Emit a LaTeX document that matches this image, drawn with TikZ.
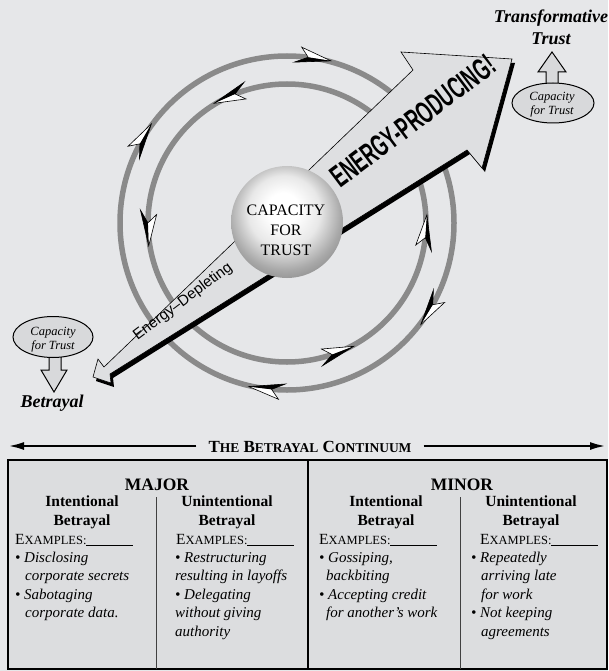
\documentclass[tikz,border=0pt]{standalone}
\usepackage{fontspec}
\setmainfont{Liberation Serif}
\setsansfont{Liberation Sans}
\usepackage{graphicx}
\usetikzlibrary{arrows.meta,shapes.geometric}
\definecolor{bgc}{RGB}{230,231,233}
\definecolor{panelc}{RGB}{220,221,223}
\definecolor{arrowc}{RGB}{222,223,225}
\definecolor{ellc}{RGB}{216,217,219}
\definecolor{ringc}{RGB}{138,138,138}
\pgfdeclareradialshading{sphereshade}{\pgfpoint{-2bp}{7bp}}{%
 color(0bp)=(white); color(7bp)=(white); color(16bp)=(black!9); color(25bp)=(black!34); color(33bp)=(black!50); color(50bp)=(black!50)}
\newcommand{\examplesline}{E{\fontsize{12.5}{12.5}\selectfont XAMPLES:}\rule[-1.5pt]{47pt}{0.8pt}}
\tikzset{
  ring/.style={draw=ringc, line width=5.5pt},
  dart/.pic={
    \fill[white] (18,0) -- (-13,-9) -- (-5,0) -- cycle;
    \fill[black] (18,0) -- (-18,7) -- (-5,0) -- cycle;
    \draw[line width=0.6pt, line join=miter] (18,0) -- (-18,7) -- (-5,0) -- (-13,-9) -- cycle;
  },
  capell/.style={ellipse, draw, line width=1pt, fill=ellc, minimum width=82pt, minimum height=40pt, inner sep=0},
  captext/.style={anchor=north, align=center, inner sep=0, font=\itshape\fontsize{12.5}{14}\selectfont},
  outarrow/.style={fill=ellc, draw=black, line width=1pt, line join=miter},
  bigtitle/.style={anchor=base, inner sep=0, font=\bfseries\itshape\fontsize{18}{18}\selectfont},
  colhead/.style={anchor=north, align=center, inner sep=0, font=\bfseries\fontsize{15.5}{19}\selectfont},
  items/.style={anchor=north west, align=left, inner sep=0, font=\itshape\fontsize{15}{18.5}\selectfont},
  exmp/.style={anchor=base west, inner sep=0, font=\fontsize{15.5}{15.5}\selectfont},
  sidehead/.style={anchor=base, inner sep=0, font=\bfseries\fontsize{17.5}{17.5}\selectfont},
  contarrow/.style={line width=2.5pt, -{Latex[length=16pt,width=8pt]}}
}
\begin{document}
\begin{tikzpicture}[x=1pt,y=-1pt]
\fill[bgc] (0,0) rectangle (608,671);
\useasboundingbox (0,0) rectangle (608,671);

% rings
\draw[ring] (287,223) circle[radius=167];
\draw[ring] (287,223) circle[radius=139];
\foreach \t in {81,150,-31,-97}
  \pic[rotate=\t-90] at ({287+167*cos(\t)},{223-167*sin(\t)}) {dart};
\foreach \t in {114,182,-69,-4}
  \pic[rotate=\t+90] at ({287+139*cos(\t)},{223-139*sin(\t)}) {dart};

% big arrow
\fill[black, shift={(3,4)}] (93,377) -- (98,359) -- (104,367) -- (413,70) -- (401,52) -- (512,59) -- (482,168) -- (467,150) -- (110,374) -- (111,383) -- cycle;
\filldraw[fill=arrowc, draw=black, line width=0.6pt, line join=miter] (93,377) -- (98,359) -- (104,367) -- (413,70) -- (401,52) -- (512,59) -- (482,168) -- (467,150) -- (110,374) -- (111,383) -- cycle;
\node[rotate=37, inner sep=0, font=\sffamily\bfseries\fontsize{20}{20}\selectfont] (prod) at (413,121) {\scalebox{0.9}[1.55]{ENERGY-PRODUCING!}};
\node[rotate=37, inner sep=0, font=\sffamily\fontsize{15}{15}\selectfont] (depl) at (183,302) {Energy–Depleting};

% sphere
\node[circle, minimum size=112pt, inner sep=0, shading=sphereshade] (sphere) at (287,222) {};
\node[anchor=north, align=center, inner sep=0, font=\fontsize{16}{20}\selectfont] (sphtxt) at (286,203) {\rule{0pt}{12pt}CAPACITY\\FOR\\TRUST};

% top right
\node[bigtitle] (tt1) at (551,23) {Transformative};
\node[bigtitle] (tt2) at (551,45) {Trust};
\filldraw[outarrow] (552,52) -- (566,72) -- (558,72) -- (558,86) -- (546,86) -- (546,72) -- (538,72) -- cycle;
\node[capell] (capT) at (553,103) {};
\node[captext] (capTt) at (552,91) {\rule{0pt}{9pt}Capacity\\for Trust};

% bottom left
\filldraw[outarrow] (49,352) -- (61,352) -- (61,370) -- (67,370) -- (54,392) -- (41,370) -- (49,370) -- cycle;
\node[capell, minimum width=80pt, minimum height=41pt] (capB) at (53,337) {};
\node[captext] (capBt) at (53,326) {\rule{0pt}{9pt}Capacity\\for Trust};
\node[bigtitle] (betr) at (52,407) {Betrayal};

% continuum
\node[anchor=base, inner xsep=12pt, inner ysep=0, font=\bfseries\fontsize{17}{17}\selectfont] (cont) at (310,452)
  {T{\fontsize{13.5}{13.5}\selectfont HE} B{\fontsize{13.5}{13.5}\selectfont ETRAYAL} C{\fontsize{13.5}{13.5}\selectfont ONTINUUM}};
\coordinate (contL) at (8,446);
\coordinate (contR) at (606,446);
\draw[contarrow] (cont.west |- contL) -- (contL);
\draw[contarrow] (cont.east |- contR) -- (contR);

% table
\filldraw[fill=panelc, draw=black, line width=2pt] (8,460) rectangle (607,669);
\draw[line width=1.6pt] (308,460) -- (308,669);
\draw[line width=0.8pt, draw=black!75] (156,497) -- (156,669);
\draw[line width=0.8pt, draw=black!75] (460,497) -- (460,669);

\node[sidehead] (major) at (157,490) {MAJOR};
\node[sidehead] (minor) at (462,490) {MINOR};

\node[colhead] (h1) at (82,494) {\rule{0pt}{12pt}Intentional\\Betrayal};
\node[colhead] (h2) at (227,494) {\rule{0pt}{12pt}Unintentional\\Betrayal};
\node[colhead] (h3) at (386,494) {\rule{0pt}{12pt}Intentional\\Betrayal};
\node[colhead] (h4) at (531,494) {\rule{0pt}{12pt}Unintentional\\Betrayal};

\node[exmp] (e1) at (15,544) {\examplesline};
\node[exmp] (e2) at (176,544) {\examplesline};
\node[exmp] (e3) at (319,544) {\examplesline};
\node[exmp] (e4) at (480,544) {\examplesline};

\node[items] (c1) at (15,550) {\rule{0pt}{12pt}• Disclosing\\\hspace*{10pt}corporate secrets\\• Sabotaging\\\hspace*{10pt}corporate data.};
\node[items] (c2) at (175,550) {\rule{0pt}{12pt}• Restructuring\\resulting in layoffs\\• Delegating\\without giving\\authority};
\node[items] (c3) at (319,550) {\rule{0pt}{12pt}• Gossiping,\\\hspace*{7pt}backbiting\\• Accepting credit\\\hspace*{7pt}for another’s work};
\node[items] (c4) at (471,550) {\rule{0pt}{12pt}• Repeatedly\\\hspace*{10pt}arriving late\\\hspace*{10pt}for work\\• Not keeping\\\hspace*{10pt}agreements};
\end{tikzpicture}
\end{document}
